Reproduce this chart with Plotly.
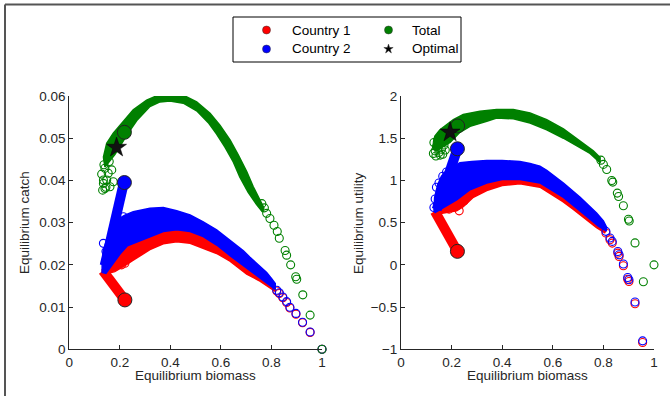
import plotly.graph_objects as go

W, H = 670, 396
RED, BLUE, GREEN = "#ff0000", "#0000ff", "#008000"
TXT = "#262626"
FONT = "Liberation Sans, Arial, sans-serif"
FS = 13.5

# ---------------- Left panel: equilibrium catch ----------------
gL_top_x = [0.135, 0.148, 0.174, 0.207, 0.253, 0.306, 0.359, 0.398, 0.451, 0.504, 0.557, 0.596, 0.636, 0.669, 0.702, 0.728, 0.755, 0.770]
gL_top_y = [0.0455, 0.0488, 0.0512, 0.0535, 0.0567, 0.0590, 0.0604, 0.0608, 0.0602, 0.0586, 0.0559, 0.0531, 0.0496, 0.0460, 0.0421, 0.0385, 0.0355, 0.0335]
gL_bot_x = [0.765, 0.742, 0.708, 0.675, 0.649, 0.616, 0.583, 0.550, 0.504, 0.451, 0.398, 0.359, 0.319, 0.267, 0.227, 0.181, 0.141]
gL_bot_y = [0.0325, 0.0342, 0.0372, 0.0408, 0.0444, 0.0479, 0.0510, 0.0537, 0.0565, 0.0583, 0.0588, 0.0586, 0.0575, 0.0542, 0.0507, 0.0462, 0.0432]
gL_pts_x = [0.132, 0.145, 0.148, 0.135, 0.137, 0.154, 0.141, 0.161, 0.174, 0.168, 0.135, 0.141, 0.128, 0.158]
gL_pts_y = [0.0377, 0.0384, 0.0401, 0.0401, 0.0437, 0.0417, 0.0429, 0.0385, 0.0397, 0.0425, 0.0393, 0.0381, 0.0415, 0.0445]
gL_tail_x = [0.762, 0.772, 0.781, 0.794, 0.810, 0.823, 0.831, 0.854, 0.860, 0.876, 0.896, 0.900, 0.924, 0.953, 1.000]
gL_tail_y = [0.0345, 0.0335, 0.0322, 0.0310, 0.0294, 0.0279, 0.0263, 0.0234, 0.0223, 0.0200, 0.0172, 0.0166, 0.0129, 0.0081, 0.0]

bL_top_x = [0.130, 0.135, 0.148, 0.170, 0.187, 0.220, 0.253, 0.319, 0.372, 0.425, 0.478, 0.530, 0.583, 0.636, 0.689, 0.715, 0.750, 0.781, 0.800, 0.815]
bL_top_y = [0.0200, 0.0235, 0.0259, 0.0290, 0.0306, 0.0318, 0.0326, 0.0334, 0.0336, 0.0328, 0.0318, 0.0302, 0.0283, 0.0258, 0.0233, 0.0218, 0.0200, 0.0182, 0.0168, 0.0156]
bL_bot_x = [0.815, 0.781, 0.750, 0.702, 0.636, 0.583, 0.530, 0.478, 0.425, 0.372, 0.319, 0.270, 0.230, 0.200, 0.170, 0.145, 0.130]
bL_bot_y = [0.0142, 0.0157, 0.0172, 0.0192, 0.0222, 0.0247, 0.0267, 0.0279, 0.0283, 0.0279, 0.0267, 0.0255, 0.0245, 0.0225, 0.0200, 0.0180, 0.0182]
bL_seg_x = [0.216, 0.140]
bL_seg_y = [0.0395, 0.0198]
bL_pts_x = [0.135, 0.145, 0.168, 0.180, 0.214, 0.205, 0.225, 0.160, 0.240]
bL_pts_y = [0.0251, 0.0232, 0.0267, 0.0283, 0.0314, 0.0298, 0.0292, 0.0245, 0.0300]
bL_tail_x = [0.821, 0.831, 0.845, 0.860, 0.873, 0.897, 0.923, 0.953, 1.000]
bL_tail_y = [0.0140, 0.0134, 0.0124, 0.0113, 0.00995, 0.0085, 0.0064, 0.0041, 0.0]

rL_top_x = [0.130, 0.170, 0.200, 0.230, 0.270, 0.319, 0.372, 0.425, 0.478, 0.530, 0.583, 0.636, 0.702, 0.750, 0.781, 0.815]
rL_top_y = [0.0190, 0.0205, 0.0228, 0.0248, 0.0258, 0.0270, 0.0282, 0.0286, 0.0282, 0.0270, 0.0250, 0.0225, 0.0195, 0.0175, 0.0160, 0.0145]
rL_bot_x = [0.815, 0.781, 0.750, 0.702, 0.636, 0.583, 0.530, 0.478, 0.425, 0.372, 0.319, 0.280, 0.250, 0.220, 0.180, 0.140, 0.130]
rL_bot_y = [0.0137, 0.0151, 0.0163, 0.0178, 0.0209, 0.0227, 0.0240, 0.0251, 0.0255, 0.0250, 0.0236, 0.0222, 0.0210, 0.0198, 0.0184, 0.0178, 0.0182]
rL_seg_x = [0.220, 0.133]
rL_seg_y = [0.0117, 0.0186]
rL_pts_x = [0.174, 0.194, 0.220, 0.207, 0.180, 0.235, 0.160, 0.200, 0.245, 0.225]
rL_pts_y = [0.0208, 0.0219, 0.0204, 0.0200, 0.0220, 0.0232, 0.0195, 0.0240, 0.0245, 0.0225]
rL_tail_x = [0.821, 0.831, 0.845, 0.860, 0.873, 0.897, 0.923, 0.953, 1.000]
rL_tail_y = [0.0138, 0.0132, 0.0122, 0.0111, 0.0098, 0.0083, 0.0063, 0.0040, 0.0]

L_end_x = [0.220, 0.218, 0.218]          # country 1, country 2, total
L_end_y = [0.0117, 0.0395, 0.0514]
L_opt_x = [0.187]
L_opt_y = [0.0478]

# ---------------- Right panel: equilibrium utility ----------------
gR_top_x = [0.128, 0.134, 0.154, 0.181, 0.207, 0.246, 0.312, 0.378, 0.444, 0.510, 0.576, 0.642, 0.708, 0.760, 0.787]
gR_top_y = [1.45, 1.525, 1.60, 1.66, 1.72, 1.78, 1.82, 1.84, 1.84, 1.80, 1.72, 1.61, 1.47, 1.35, 1.27]
gR_bot_x = [0.787, 0.747, 0.708, 0.642, 0.576, 0.510, 0.444, 0.378, 0.339, 0.273, 0.233, 0.194, 0.167, 0.141, 0.128]
gR_bot_y = [1.21, 1.32, 1.39, 1.50, 1.60, 1.68, 1.73, 1.74, 1.70, 1.64, 1.57, 1.45, 1.40, 1.36, 1.38]
gR_pts_x = [0.128, 0.135, 0.140, 0.150, 0.160, 0.170, 0.130, 0.145, 0.155, 0.175, 0.138, 0.165]
gR_pts_y = [1.32, 1.35, 1.40, 1.33, 1.37, 1.42, 1.45, 1.48, 1.30, 1.36, 1.29, 1.31]
gR_tail_x = [0.790, 0.800, 0.813, 0.833, 0.837, 0.855, 0.860, 0.879, 0.899, 0.902, 0.925, 0.958, 1.000]
gR_tail_y = [1.24, 1.19, 1.13, 1.00, 0.98, 0.85, 0.81, 0.70, 0.54, 0.52, 0.26, -0.20, 0.0]

bR_top_x = [0.130, 0.133, 0.145, 0.160, 0.180, 0.207, 0.233, 0.280, 0.339, 0.400, 0.470, 0.510, 0.549, 0.576, 0.642, 0.708, 0.740, 0.773, 0.800, 0.812]
bR_top_y = [0.64, 0.80, 0.95, 1.05, 1.12, 1.17, 1.21, 1.225, 1.235, 1.235, 1.225, 1.20, 1.17, 1.12, 0.97, 0.80, 0.71, 0.615, 0.52, 0.45]
bR_bot_x = [0.812, 0.780, 0.740, 0.700, 0.642, 0.576, 0.549, 0.470, 0.400, 0.339, 0.273, 0.220, 0.180, 0.150, 0.135]
bR_bot_y = [0.40, 0.46, 0.56, 0.66, 0.80, 0.92, 0.97, 1.01, 1.01, 0.97, 0.89, 0.77, 0.70, 0.64, 0.62]
bR_seg_x = [0.223, 0.141]
bR_seg_y = [1.375, 0.655]
bR_pts_x = [0.135, 0.140, 0.150, 0.165, 0.180, 0.145, 0.200, 0.170, 0.130, 0.190]
bR_pts_y = [0.78, 0.92, 0.97, 1.05, 1.10, 0.70, 1.13, 0.88, 0.68, 0.95]
bR_tail_x = [0.810, 0.826, 0.835, 0.857, 0.862, 0.879, 0.896, 0.901, 0.925, 0.955]
bR_tail_y = [0.397, 0.318, 0.278, 0.159, 0.120, 0.01, -0.15, -0.177, -0.44, -0.90]

rR_top_x = [0.135, 0.180, 0.220, 0.273, 0.339, 0.400, 0.470, 0.549, 0.576, 0.642, 0.700, 0.740, 0.780, 0.812]
rR_top_y = [0.63, 0.71, 0.79, 0.91, 0.99, 1.03, 1.03, 0.99, 0.94, 0.82, 0.68, 0.58, 0.48, 0.42]
rR_bot_x = [0.805, 0.773, 0.740, 0.714, 0.680, 0.640, 0.576, 0.549, 0.470, 0.400, 0.339, 0.286, 0.246, 0.220, 0.180, 0.140, 0.130]
rR_bot_y = [0.38, 0.44, 0.52, 0.575, 0.66, 0.75, 0.87, 0.92, 0.96, 0.94, 0.88, 0.80, 0.69, 0.64, 0.62, 0.60, 0.62]
rR_seg_x = [0.223, 0.134]
rR_seg_y = [0.16, 0.634]
rR_pts_x = [0.180, 0.200, 0.220, 0.190, 0.210, 0.240, 0.230, 0.170, 0.250, 0.205]
rR_pts_y = [0.80, 0.74, 0.70, 0.66, 0.86, 0.82, 0.64, 0.70, 0.76, 0.90]
rR_tail_x = [0.810, 0.826, 0.835, 0.857, 0.862, 0.879, 0.896, 0.901, 0.925, 0.955]
rR_tail_y = [0.377, 0.298, 0.258, 0.139, 0.100, -0.01, -0.17, -0.197, -0.46, -0.92]

R_end_x = [0.223, 0.223, 0.224]
R_end_y = [0.16, 1.375, 1.645]
R_opt_x = [0.194]
R_opt_y = [1.57]

x_ticks = [0, 0.2, 0.4, 0.6, 0.8, 1]
yL_ticks = [0, 0.01, 0.02, 0.03, 0.04, 0.05, 0.06]
yR_ticks = [-1, -0.5, 0, 0.5, 1, 1.5, 2]
yR_ticktext = ["\u22121", "\u22120.5", "0", "0.5", "1", "1.5", "2"]

series_names = ["Country 1", "Country 2", "Total", "Optimal"]
series_colors = [RED, BLUE, GREEN, "#000000"]

fig = go.Figure()


def band(tx, ty, bx, by, color, xa, ya):
    fig.add_trace(go.Scatter(x=tx + bx + [tx[0]], y=ty + by + [ty[0]], mode="lines",
                             fill="toself", fillcolor=color,
                             line=dict(color=color, width=1.5),
                             xaxis=xa, yaxis=ya, showlegend=False, hoverinfo="skip"))


def seg(x, y, color, xa, ya):
    fig.add_trace(go.Scatter(x=x, y=y, mode="lines", line=dict(color=color, width=10),
                             xaxis=xa, yaxis=ya, showlegend=False, hoverinfo="skip"))


def pts(x, y, color, xa, ya):
    fig.add_trace(go.Scatter(x=x, y=y, mode="markers", cliponaxis=False,
                             marker=dict(symbol="circle-open", size=8, color=color,
                                         line=dict(width=1.1, color=color)),
                             xaxis=xa, yaxis=ya, showlegend=False))


panels = [
    ("x", "y",
     (rL_top_x, rL_top_y, rL_bot_x, rL_bot_y, rL_seg_x, rL_seg_y, rL_pts_x, rL_pts_y, rL_tail_x, rL_tail_y),
     (bL_top_x, bL_top_y, bL_bot_x, bL_bot_y, bL_seg_x, bL_seg_y, bL_pts_x, bL_pts_y, bL_tail_x, bL_tail_y),
     (gL_top_x, gL_top_y, gL_bot_x, gL_bot_y, gL_pts_x, gL_pts_y, gL_tail_x, gL_tail_y),
     L_end_x, L_end_y, L_opt_x, L_opt_y),
    ("x2", "y2",
     (rR_top_x, rR_top_y, rR_bot_x, rR_bot_y, rR_seg_x, rR_seg_y, rR_pts_x, rR_pts_y, rR_tail_x, rR_tail_y),
     (bR_top_x, bR_top_y, bR_bot_x, bR_bot_y, bR_seg_x, bR_seg_y, bR_pts_x, bR_pts_y, bR_tail_x, bR_tail_y),
     (gR_top_x, gR_top_y, gR_bot_x, gR_bot_y, gR_pts_x, gR_pts_y, gR_tail_x, gR_tail_y),
     R_end_x, R_end_y, R_opt_x, R_opt_y),
]

for xa, ya, rd, bd, gd, ex, ey, ox, oy in panels:
    for d, c in ((rd, RED), (bd, BLUE)):
        band(d[0], d[1], d[2], d[3], c, xa, ya)
        seg(d[4], d[5], c, xa, ya)
        pts(d[6], d[7], c, xa, ya)
        pts(d[8], d[9], c, xa, ya)
    band(gd[0], gd[1], gd[2], gd[3], GREEN, xa, ya)
    pts(gd[4], gd[5], GREEN, xa, ya)
    pts(gd[6], gd[7], GREEN, xa, ya)
    fig.add_trace(go.Scatter(x=ex, y=ey, mode="markers", cliponaxis=False,
                             marker=dict(symbol="circle", size=14, color=[RED, BLUE, GREEN],
                                         line=dict(width=1, color="#222222")),
                             xaxis=xa, yaxis=ya, showlegend=False))
    fig.add_trace(go.Scatter(x=ox, y=oy, mode="markers", cliponaxis=False,
                             marker=dict(symbol="star", size=15, color="#111111",
                                         line=dict(width=0.5, color="#000000")),
                             xaxis=xa, yaxis=ya, showlegend=False))

# ---------------- manual legend (keys drawn in a hidden pixel-space axis) ----------------
LGX0, LGX1, LGY0, LGY1 = 233, 461, 17, 62
key_x = [266.5, 266.5, 388.5, 388.5]
key_y = [30, 49, 30, 49]
key_sym = ["circle", "circle", "circle", "star"]
key_size = [8, 8, 8, 7]
for i in range(4):
    fig.add_trace(go.Scatter(x=[key_x[i]], y=[key_y[i]], mode="markers", cliponaxis=False,
                             marker=dict(symbol=key_sym[i], size=key_size[i], color=series_colors[i],
                                         line=dict(width=0.5, color="#333333")),
                             xaxis="x3", yaxis="y3", showlegend=False, hoverinfo="skip"))

annotations = []
label_x = [289.5, 289.5, 410, 410]
for i in range(4):
    annotations.append(dict(x=label_x[i] / W, y=1 - key_y[i] / H, xref="paper", yref="paper",
                            text=series_names[i], showarrow=False, xanchor="left", yanchor="middle",
                            font=dict(family=FONT, size=FS, color="#000000")))

# axis titles
annotations += [
    dict(x=195.7 / W, y=1 - 375 / H, text="Equilibrium biomass"),
    dict(x=527.5 / W, y=1 - 375.5 / H, text="Equilibrium biomass"),
    dict(x=25 / W, y=1 - 222 / H, text="Equilibrium catch", textangle=-90),
    dict(x=358 / W, y=1 - 223 / H, text="Equilibrium utility", textangle=-90),
]
for a in annotations[4:]:
    a.update(xref="paper", yref="paper", showarrow=False, xanchor="center", yanchor="middle",
             font=dict(family=FONT, size=FS, color=TXT))

yd = [1 - 349.3 / H, 1 - 96 / H]
axis_common = dict(showgrid=False, zeroline=False, showline=True, linecolor=TXT, linewidth=1,
                   ticks="inside", ticklen=4, tickwidth=1, tickcolor=TXT, mirror=False,
                   tickfont=dict(family=FONT, size=FS, color=TXT), automargin=False)

fig.update_layout(
    width=W, height=H,
    margin=dict(l=0, r=0, t=0, b=0),
    paper_bgcolor="white", plot_bgcolor="white",
    showlegend=False,
    xaxis=dict(domain=[69.3 / W, 322 / W], range=[0, 1], tickvals=x_ticks,
               ticktext=[f"{v:g}" for v in x_ticks], anchor="y", **axis_common),
    yaxis=dict(domain=yd, range=[0, 0.06], tickvals=yL_ticks,
               ticktext=[f"{v:g}" for v in yL_ticks], anchor="x", **axis_common),
    xaxis2=dict(domain=[401 / W, 654 / W], range=[0, 1], tickvals=x_ticks,
                ticktext=[f"{v:g}" for v in x_ticks], anchor="y2", **axis_common),
    yaxis2=dict(domain=yd, range=[-1, 2], tickvals=yR_ticks, ticktext=yR_ticktext,
                anchor="x2", **axis_common),
    xaxis3=dict(domain=[LGX0 / W, LGX1 / W], range=[LGX0, LGX1], visible=False, fixedrange=True),
    yaxis3=dict(domain=[1 - LGY1 / H, 1 - LGY0 / H], range=[LGY1, LGY0], visible=False,
                fixedrange=True, anchor="x3"),
    annotations=annotations,
    shapes=[
        dict(type="rect", xref="paper", yref="paper", x0=LGX0 / W, x1=LGX1 / W,
             y0=1 - LGY1 / H, y1=1 - LGY0 / H, line=dict(color="#000000", width=1)),
        dict(type="line", xref="paper", yref="paper", x0=5 / W, x1=1, y0=1 - 4.5 / H, y1=1 - 4.5 / H,
             line=dict(color="#555555", width=2)),
        dict(type="line", xref="paper", yref="paper", x0=5 / W, x1=5 / W, y0=0, y1=1 - 4.5 / H,
             line=dict(color="#555555", width=2)),
    ],
)

fig.write_html("out.html", config={"displayModeBar": False},
               post_script="document.body.style.margin='0';document.body.style.overflow='hidden';")
